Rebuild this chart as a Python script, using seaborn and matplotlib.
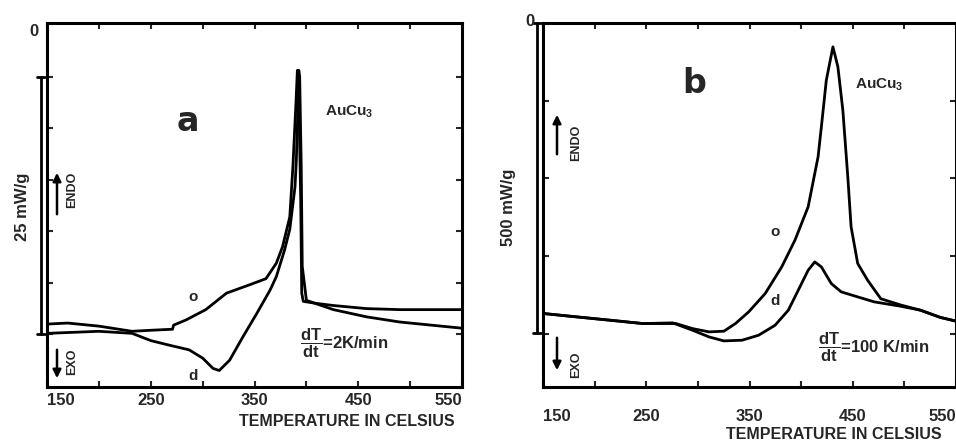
import numpy as np
import pandas as pd
import matplotlib
matplotlib.use("Agg")
import matplotlib.pyplot as plt
import seaborn as sns

# Panel a: dT/dt = 2 K/min, heat flow in mW/g
a_o_temp = [150, 170, 200, 232, 250, 271, 272, 284, 303, 323, 345, 361, 371, 377,
            384, 387, 390, 391.3, 392.6, 394.5, 395.5, 397, 410, 426, 458, 490, 550]
a_o_val = [1.0, 1.1, 0.8, 0.3, 0.4, 0.5, 0.9, 1.4, 2.4, 4.0, 4.8, 5.4, 6.9, 8.5,
           11.4, 16.3, 22.6, 25.6, 23.9, 13.0, 4.0, 3.2, 3.0, 2.8, 2.5, 2.4, 2.4]
a_d_temp = [150, 200, 232, 250, 266, 287, 300, 310, 316, 326, 339, 352, 365, 371,
            379, 384, 389, 390.3, 391.3, 392.6, 393.5, 395, 396, 400, 426, 458, 490, 550]
a_d_val = [0.1, 0.3, 0.1, -0.6, -1.0, -1.5, -2.3, -3.3, -3.5, -2.5, -0.2, 2.0, 4.3, 5.6,
           8.2, 10.2, 14.3, 16.9, 20.1, 25.6, 25.0, 16.3, 6.6, 3.3, 2.4, 1.7, 1.2, 0.6]

# Panel b: dT/dt = 100 K/min
b_o_temp = [150.8, 182.8, 214.8, 246.8, 278.8, 294.8, 310.8, 325.2, 336.4, 349.2, 365.2,
            381.2, 394, 406.8, 416.4, 419.6, 424.4, 430.8, 435.6, 440.4, 445.2, 448.4,
            454.8, 464.4, 477.2, 496.4, 515.6, 534.8, 550]
b_o_val = [32.2, 26.8, 21.5, 16.1, 16.1, 8.0, 2.7, 3.8, 16.1, 34.9, 64.4,
           107.3, 150.2, 203.9, 284.3, 332.6, 407.7, 461.4, 429.2, 359.5, 252.2, 171.7,
           112.7, 85.8, 56.0, 46.0, 37.6, 26.0, 20.0]
b_d_temp = [150.8, 182.8, 214.8, 246.8, 275.6, 294.8, 310.8, 325.2, 342.8, 358.8, 374.8,
            387.6, 397.2, 406.8, 413.2, 419.6, 429.2, 438.8, 454.8, 470.8, 496.4, 515.6,
            534.8, 550]
b_d_val = [32.2, 26.8, 21.5, 16.1, 17.2, 5.4, -5.4, -11.8, -10.7, -2.7, 13.4,
           37.6, 69.7, 101.9, 115.3, 107.3, 80.5, 67.1, 59.0, 51.0, 44.0, 37.6, 26.0, 20.0]

x_ticks = [150, 250, 350, 450, 550]
x_minor = [200, 300, 400, 500]
a_yticks = [0, 5, 10, 15, 20, 25]
b_yticks = [0, 125, 250, 375]

sns.set_style("ticks")
FONT = ["Liberation Sans Narrow", "Liberation Sans", "DejaVu Sans"]
plt.rcParams["font.family"] = FONT
plt.rcParams["font.weight"] = "bold"
plt.rcParams["mathtext.fontset"] = "custom"
plt.rcParams["mathtext.rm"] = "Liberation Sans:bold"
plt.rcParams["mathtext.bf"] = "Liberation Sans:bold"
plt.rcParams["mathtext.it"] = "Liberation Sans:bold"

fig = plt.figure(figsize=(9.56, 4.43), dpi=100)
ax_a = fig.add_axes([0.0492, 0.1264, 0.4341, 0.822])
ax_b = fig.add_axes([0.568, 0.1264, 0.432, 0.822])


def draw_panel(ax, o_t, o_v, d_t, d_v, ylim, yticks, pad, lab_xy):
    df = pd.concat([
        pd.DataFrame({"T": o_t, "v": o_v, "run": "o"}),
        pd.DataFrame({"T": d_t, "v": d_v, "run": "d"}),
    ])
    sns.lineplot(data=df, x="T", y="v", units="run", estimator=None, sort=False,
                 color="black", linewidth=2.0, ax=ax, legend=False)
    ax.set_xlim(150, 550)
    ax.set_ylim(*ylim)
    ax.set_xticks(x_ticks)
    ax.set_xticks(x_minor, minor=True)
    ax.set_yticks(yticks)
    ax.set_yticklabels([])
    ax.tick_params(axis="both", which="both", direction="in", length=4, width=1.5,
                   top=True, right=True, labelsize=12, pad=pad)
    for s in ax.spines.values():
        s.set_linewidth(2.2)
        s.set_color("black")
    ax.set_xlabel("TEMPERATURE IN CELSIUS", fontsize=11.5, fontweight="bold")
    ax.xaxis.set_label_coords(*lab_xy)
    ax.set_ylabel("")
    labels = ax.get_xticklabels()
    for lab in labels:
        lab.set_fontweight("bold")
    labels[0].set_horizontalalignment("left")
    labels[-1].set_horizontalalignment("right")


draw_panel(ax_a, a_o_temp, a_o_val, a_d_temp, a_d_val, (-5.1, 30.2), a_yticks,
           4, (0.723, -0.075))
draw_panel(ax_b, b_o_temp, b_o_val, b_d_temp, b_d_val, (-86, 500), b_yticks,
           16, (0.703, -0.11))

# panel letters and annotations
for ax, letter, lx, ly, ax_x, ay in [(ax_a, "a", 286, 20.6, 0.67, 0.755),
                                     (ax_b, "b", 296, 403, 0.756, 0.83)]:
    ax.text(lx, ly, letter, fontsize=24, fontweight="bold", family="DejaVu Sans",
            ha="center", va="center")
    ax.text(ax_x, ay, r"AuCu$_{3}$", transform=ax.transAxes, fontsize=11,
            fontweight="bold", ha="left", va="center")

ax_a.text(291, 3.6, "o", fontsize=11, fontweight="bold", ha="center", va="center")
ax_a.text(291, -4.0, "d", fontsize=11, fontweight="bold", ha="center", va="center")
ax_a.text(0.61, 0.12, r"$\dfrac{dT}{dt}$=2K/min", transform=ax_a.transAxes,
          fontsize=12, fontweight="bold", ha="left", va="center")
ax_b.text(375, 163, "o", fontsize=11, fontweight="bold", ha="center", va="center")
ax_b.text(375, 52, "d", fontsize=11, fontweight="bold", ha="center", va="center")
ax_b.text(0.665, 0.11, r"$\dfrac{dT}{dt}$=100 K/min", transform=ax_b.transAxes,
          fontsize=12, fontweight="bold", ha="left", va="center")

# scale bars, endo/exo arrows, drawn in figure pixels
H = 443.0
W = 956.0


def fx(px):
    return px / W


def fy(py):
    return 1 - py / H


for bx, y0, y1, label, lxp, ly, top0 in [(40.5, 77, 334, "25 mW/g", 22, 207, 32),
                                         (537, 23, 333, "500 mW/g", 508, 207, 22)]:
    fig.add_artist(plt.Line2D([fx(bx), fx(bx)], [fy(y0), fy(y1)], color="black", lw=2))
    for yy in (y0, y1):
        fig.add_artist(plt.Line2D([fx(bx - 4), fx(bx + 4)], [fy(yy), fy(yy)],
                                  color="black", lw=2))
    fig.text(fx(lxp), fy(ly), label, rotation=90, fontsize=12, fontweight="bold",
             ha="center", va="center")
    fig.text(fx(bx - 7), fy(top0), "0", fontsize=12, fontweight="bold",
             ha="center", va="center")

for axx, tx, up0, up1, dn0, dn1, endo_y, exo_y in [(57, 72, 217, 170, 347, 381, 190, 362),
                                                   (557, 576, 157, 112, 335, 373, 143, 365)]:
    fig.add_artist(matplotlib.patches.FancyArrowPatch(
        (fx(axx), fy(up0)), (fx(axx), fy(up1)), transform=fig.transFigure,
        arrowstyle="-|>", mutation_scale=12, color="black", lw=1.8))
    fig.add_artist(matplotlib.patches.FancyArrowPatch(
        (fx(axx), fy(dn0)), (fx(axx), fy(dn1)), transform=fig.transFigure,
        arrowstyle="-|>", mutation_scale=12, color="black", lw=1.8))
    fig.text(fx(tx), fy(endo_y), "ENDO", rotation=90, fontsize=9, fontweight="bold",
             ha="center", va="center")
    fig.text(fx(tx), fy(exo_y), "EXO", rotation=90, fontsize=9, fontweight="bold",
             ha="center", va="center")

fig.savefig("out.png", dpi=100)
